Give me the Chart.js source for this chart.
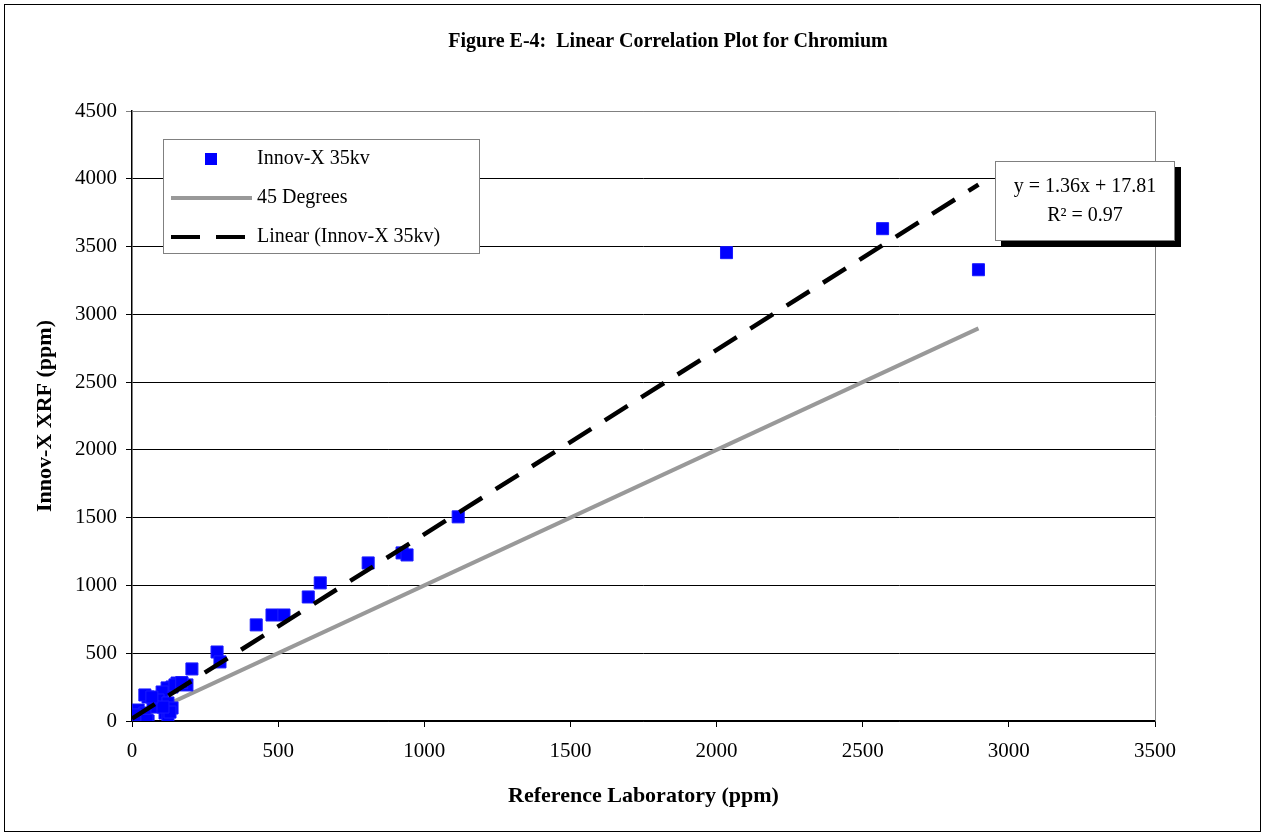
<!DOCTYPE html>
<html>
<head>
<meta charset="utf-8">
<title>Figure E-4</title>
<script src="https://cdn.jsdelivr.net/npm/chart.js@4/dist/chart.umd.min.js"></script>
<style>
  html, body { margin: 0; padding: 0; background: #fff; }
  #wrap { width: 1263px; height: 834px; }
</style>
</head>
<body>
<div id="wrap"><canvas id="myChart" width="1263" height="834"></canvas></div>
<script>
// Reference lab values (x) and Innov-X XRF readings (y)
const refLab = [2896, 2568, 2034, 1116, 924, 941, 808, 644, 603, 479, 520, 425,
    291, 301, 205, 154, 171, 188, 137, 120, 103, 55, 44, 89, 123, 72, 137, 21,
    113, 44, 3, 55, 123, 130, 106, 10, 51, 68, 147, 170];
const innovX = [3329, 3632, 3455, 1506, 1240, 1225, 1166, 1019, 915, 782, 782, 709,
    509, 436, 384, 280, 280, 266, 251, 244, 214, 177, 192, 155, 133, 103, 96, 81,
    59, 59, 44, 0, 30, 66, 103, 44, 5, 177, 266, 283];

// fitted trend shown on the chart
const trendSlope = 1.36;
const trendIntercept = 17.81;
const rSquared = 0.97;

const xTicks = [0, 500, 1000, 1500, 2000, 2500, 3000, 3500];
const yTicks = [0, 500, 1000, 1500, 2000, 2500, 3000, 3500, 4000, 4500];

const serif = "'Liberation Serif', 'Times New Roman', serif";
const xMaxData = Math.max(...refLab);

const points = refLab.map((x, i) => ({ x: x, y: innovX[i] }));
const diagLine = [{ x: 0, y: 0 }, { x: xMaxData, y: xMaxData }];
const trendLine = [
    { x: 0, y: trendIntercept },
    { x: xMaxData, y: trendSlope * xMaxData + trendIntercept }
];

// background, frame, title, legend and equation box
const decor = {
    id: 'decor',
    beforeDraw(chart) {
        const ctx = chart.ctx;
        ctx.save();
        ctx.fillStyle = '#fff';
        ctx.fillRect(0, 0, chart.width, chart.height);
        ctx.strokeStyle = '#000';
        ctx.lineWidth = 1;
        ctx.strokeRect(4.5, 4.5, chart.width - 7, chart.height - 7);
        ctx.fillStyle = '#000';
        ctx.font = 'bold 20px ' + serif;
        ctx.textAlign = 'center';
        ctx.textBaseline = 'middle';
        ctx.fillText('Figure E-4:  Linear Correlation Plot for Chromium', 668, 42);
        ctx.restore();
    },
    afterDatasetsDraw(chart) {
        const ctx = chart.ctx;
        const a = chart.chartArea;
        ctx.save();
        // plot border top/right
        ctx.strokeStyle = '#808080';
        ctx.lineWidth = 1;
        ctx.beginPath();
        ctx.moveTo(a.left, a.top + 0.5);
        ctx.lineTo(a.right + 0.5, a.top + 0.5);
        ctx.lineTo(a.right + 0.5, a.bottom);
        ctx.stroke();

        // legend
        ctx.fillStyle = '#fff';
        ctx.fillRect(163, 139, 316, 114);
        ctx.strokeStyle = '#808080';
        ctx.strokeRect(163.5, 139.5, 316, 114);
        ctx.fillStyle = '#0000ff';
        ctx.fillRect(205, 153, 12, 12);
        ctx.strokeStyle = '#999999';
        ctx.lineWidth = 4;
        ctx.beginPath();
        ctx.moveTo(171, 198);
        ctx.lineTo(252, 198);
        ctx.stroke();
        ctx.strokeStyle = '#000';
        ctx.setLineDash([29, 16]);
        ctx.beginPath();
        ctx.moveTo(171, 237);
        ctx.lineTo(245, 237);
        ctx.stroke();
        ctx.setLineDash([]);
        ctx.fillStyle = '#000';
        ctx.font = '20px ' + serif;
        ctx.textAlign = 'left';
        ctx.textBaseline = 'middle';
        ctx.fillText('Innov-X 35kv', 257, 159);
        ctx.fillText('45 Degrees', 257, 198);
        ctx.fillText('Linear (Innov-X 35kv)', 257, 237);

        // equation box with shadow
        ctx.fillStyle = '#000';
        ctx.fillRect(1001, 167, 180, 80);
        ctx.fillStyle = '#fff';
        ctx.fillRect(995, 161, 180, 80);
        ctx.strokeStyle = '#808080';
        ctx.lineWidth = 1;
        ctx.strokeRect(995.5, 161.5, 179, 79);
        ctx.fillStyle = '#000';
        ctx.textAlign = 'center';
        ctx.fillText('y = ' + trendSlope.toFixed(2) + 'x + ' + trendIntercept.toFixed(2), 1085, 187);
        ctx.fillText('R\u00B2 = ' + rSquared.toFixed(2), 1085, 216);
        ctx.restore();
    }
};

function plainTick(value) {
    return String(value);
}

const ctx = document.getElementById('myChart').getContext('2d');
const myChart = new Chart(ctx, {
    type: 'scatter',
    data: {
        datasets: [
            {
                label: 'Innov-X 35kv',
                data: points,
                pointStyle: 'rect',
                pointRadius: 8.5,
                backgroundColor: '#0000ff',
                borderColor: '#1a1aff',
                borderWidth: 1,
                order: 1
            },
            {
                label: '45 Degrees',
                type: 'line',
                data: diagLine,
                borderColor: '#999999',
                borderWidth: 4,
                pointRadius: 0,
                fill: false,
                order: 3
            },
            {
                label: 'Linear (Innov-X 35kv)',
                type: 'line',
                data: trendLine,
                borderColor: '#000',
                borderWidth: 4.5,
                borderDash: [27, 16],
                pointRadius: 0,
                fill: false,
                order: 0
            }
        ]
    },
    options: {
        responsive: false,
        animation: false,
        layout: { padding: { left: 0, top: 111, right: 108, bottom: 0 } },
        plugins: {
            legend: { display: false },
            title: { display: false },
            tooltip: { enabled: false }
        },
        scales: {
            x: {
                type: 'linear',
                min: 0,
                max: 3500,
                afterBuildTicks: function(scale) {
                    scale.ticks = xTicks.map(v => ({ value: v }));
                },
                afterFit: function(scale) { scale.height = 113; },
                ticks: {
                    color: '#000',
                    padding: 12,
                    callback: plainTick,
                    font: { family: serif, size: 21 }
                },
                grid: {
                    drawOnChartArea: false,
                    drawTicks: true,
                    tickLength: 6,
                    color: '#000'
                },
                border: { color: '#000', width: 1.5 },
                title: {
                    display: true,
                    text: 'Reference Laboratory (ppm)',
                    color: '#000',
                    padding: { top: 0, bottom: 24 },
                    font: { family: serif, size: 22, weight: 'bold' }
                }
            },
            y: {
                type: 'linear',
                min: 0,
                max: 4500,
                afterBuildTicks: function(scale) {
                    scale.ticks = yTicks.map(v => ({ value: v }));
                },
                afterFit: function(scale) { scale.width = 132; },
                ticks: {
                    color: '#000',
                    padding: 9,
                    callback: plainTick,
                    font: { family: serif, size: 21 }
                },
                grid: {
                    drawOnChartArea: true,
                    drawTicks: true,
                    tickLength: 6,
                    color: function(c) {
                        return c.tick && c.tick.value === 4500 ? '#808080' : '#000';
                    },
                    lineWidth: 1
                },
                border: { color: '#000', width: 1.5 },
                title: {
                    display: true,
                    text: 'Innov-X XRF (ppm)',
                    color: '#000',
                    padding: { top: 32, bottom: 0 },
                    font: { family: serif, size: 22, weight: 'bold' }
                }
            }
        }
    },
    plugins: [decor]
});
</script>
</body>
</html>
